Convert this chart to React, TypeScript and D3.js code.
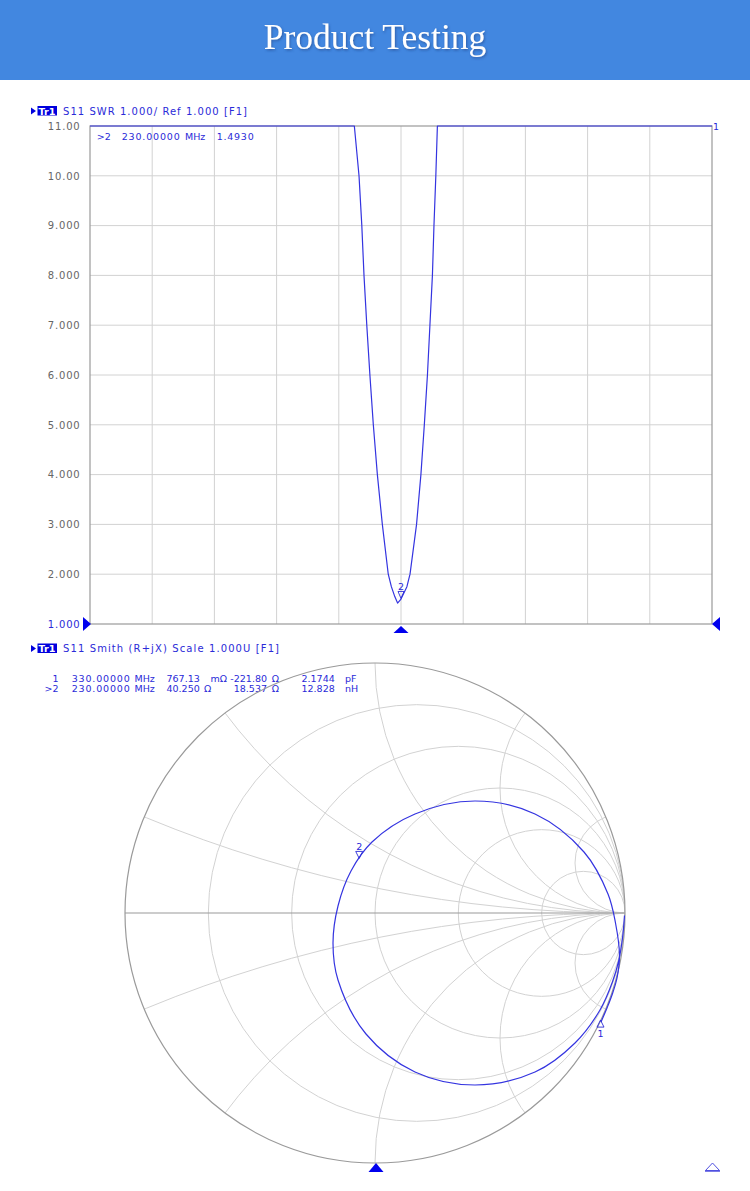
import React from "react";
import * as d3 from "d3";

// ---------- DATA ----------
const titleText = "Product Testing";
const swrHeader = "S11 SWR 1.000/ Ref 1.000 [F1]";
const smithHeader = "S11 Smith (R+jX) Scale 1.000U [F1]";

const yTickValues = [11, 10, 9, 8, 7, 6, 5, 4, 3, 2, 1];
const yTickLabels = ["11.00", "10.00", "9.000", "8.000", "7.000", "6.000", "5.000", "4.000", "3.000", "2.000", "1.000"];
const freqStart = 130; // MHz
const freqStop = 330; // MHz
const xDivisions = 10;

// SWR trace (frequency MHz, SWR); values above 11 are off-scale
const swrFreq = [130, 170, 200, 212, 214.6, 215.0, 216.5, 217.4, 218.1, 219.0, 220.0, 221.1, 222.4, 224.0, 225.9, 226.9, 228.0, 228.9, 230.0, 231.9, 232.9, 235.0, 236.4, 237.5, 238.5, 239.3, 240.1, 240.6, 241.2, 241.7, 242.0, 245, 260, 300, 330];
const swrValue = [60, 40, 20, 13, 11.2, 11, 10, 9, 8, 7, 6, 5, 4, 3, 2, 1.75, 1.55, 1.42, 1.5, 1.75, 2, 3, 4, 5, 6, 7, 8, 9, 10, 11, 11.4, 14, 30, 50, 70];

// marker readouts
const markerIds = ["1", "2"];
const markerActive = [false, true];
const markerFreq = [330, 230];
const markerFreqText = ["330.00000", "230.00000"];
const markerSwr = ["", "1.4930"];
const markerR = [0.76713, 40.25]; // ohm
const markerX = [-221.8, 18.537]; // ohm
const markerRText = ["767.13", "40.250"];
const markerRUnit = ["m\u03A9", "\u03A9"];
const markerXText = ["-221.80", "18.537"];
const markerLText = ["2.1744", "12.828"];
const markerLUnit = ["pF", "nH"];
const z0 = 50;

// Smith chart grid
const smithR = [0.2, 0.5, 1, 2, 5];
const smithX = [0.2, 0.5, 1, 2, 5, -0.2, -0.5, -1, -2, -5];

// Smith trace (reflection coefficient re, im), in sweep order
const gammaRe = [0.998, 0.99, 0.975, 0.95, 0.9, 0.8, 0.64, 0.4, 0.16, -0.036, -0.148, -0.168, -0.148, -0.096, -0.012, 0.16, 0.4, 0.64, 0.836, 0.932, 0.962, 0.978, 0.968, 0.948, 0.928, 0.904];
const gammaIm = [-0.01, -0.1, -0.19, -0.275, -0.388, -0.52, -0.636, -0.688, -0.636, -0.484, -0.268, -0.12, 0.028, 0.168, 0.284, 0.396, 0.448, 0.396, 0.244, 0.076, -0.04, -0.17, -0.26, -0.328, -0.38, -0.436];

// ---------- STYLE ----------
const FONT = "'DejaVu Sans', Verdana, sans-serif";
const BLUE = "#3434e0";
const TEXTBLUE = "#2a2ad8";
const GRID = "#d2d2d2";
const FRAME = "#9a9a9a";
const LABEL = "#666666";
const FS = 9.5;

const W = 750;
const H = 1191;

type TokProps = { x: number; y: number; w?: number; anchor?: string; children: React.ReactNode };
function Tok({ x, y, w, anchor, children }: TokProps) {
  const extra = w ? { textLength: w, lengthAdjust: "spacing" } : {};
  return (
    <text x={x} y={y} fontSize={FS} fontFamily={FONT} fill={TEXTBLUE} textAnchor={anchor || "start"} {...extra}>
      {children}
    </text>
  );
}

function TrHeader({ y, text, width }: { y: number; text: string; width: number }) {
  return (
    <g>
      <path d={`M31,${y - 7} L36,${y - 3.5} L31,${y} Z`} fill="#0000dd" />
      <rect x={37.5} y={y - 8.5} width={19.5} height={9.5} fill="#0000dd" />
      <text x={38.5} y={y} fontSize={9.5} fill="#ffffff" fontFamily={FONT} fontWeight="bold" textLength={17} lengthAdjust="spacingAndGlyphs">Tr1</text>
      <text x={63} y={y} fontSize={10} fill={TEXTBLUE} fontFamily={FONT} textLength={width} lengthAdjust="spacing">{text}</text>
    </g>
  );
}

function SwrChart() {
  const x = d3.scaleLinear().domain([freqStart, freqStop]).range([90, 712]);
  const y = d3.scaleLinear().domain([1, 11]).range([624, 126]);
  const xTicks = d3.range(xDivisions + 1).map((i) => freqStart + (i * (freqStop - freqStart)) / xDivisions);
  const line = d3
    .line<number>()
    .x((_, i) => x(swrFreq[i]))
    .y((_, i) => y(Math.min(11, swrValue[i])))
    .curve(d3.curveLinear);
  const m2 = 1;
  const m2x = x(markerFreq[m2]);
  const m2y = y(parseFloat(markerSwr[m2]));
  return (
    <g>
      <TrHeader y={114.5} text={swrHeader} width={184} />
      {/* grid */}
      {xTicks.slice(1, -1).map((f) => (
        <line key={"vx" + f} x1={x(f)} x2={x(f)} y1={126} y2={624} stroke={GRID} strokeWidth={1} />
      ))}
      {yTickValues.slice(1, -1).map((v) => (
        <line key={"hy" + v} x1={90} x2={712} y1={y(v)} y2={y(v)} stroke={GRID} strokeWidth={1} />
      ))}
      <rect x={90} y={126} width={622} height={498} fill="none" stroke={FRAME} strokeWidth={1.2} />
      {/* y labels */}
      {yTickValues.map((v, i) => (
        <text key={"yl" + v} x={80.5} y={y(v) + 3.8} textAnchor="end" fontSize={10} letterSpacing={0.8} fontFamily={FONT} fill={v === 1 ? TEXTBLUE : LABEL}>
          {yTickLabels[i]}
        </text>
      ))}
      {/* marker readout */}
      <Tok x={96.7} y={140}>{">" + markerIds[m2]}</Tok>
      <Tok x={121.7} y={140} w={58}>{markerFreqText[m2]}</Tok>
      <Tok x={185} y={140}>MHz</Tok>
      <Tok x={216.7} y={140} w={37}>{markerSwr[m2]}</Tok>
      {/* trace */}
      <path d={line(swrValue) || ""} fill="none" stroke={BLUE} strokeWidth={1.2} strokeLinejoin="round" />
      {/* marker 2 */}
      <path d={`M${m2x},${m2y - 1} L${m2x - 3},${m2y - 8} L${m2x + 3},${m2y - 8} Z`} fill="none" stroke={TEXTBLUE} strokeWidth={0.9} />
      <text x={m2x} y={m2y - 9.5} textAnchor="middle" fontSize={9.5} fontFamily={FONT} fill={TEXTBLUE}>{markerIds[m2]}</text>
      {/* marker 1 off-scale at stop */}
      <text x={713} y={130} fontSize={9.5} fontFamily={FONT} fill={TEXTBLUE}>{markerIds[0]}</text>
      {/* stimulus / reference triangles */}
      <path d={`M83,617 L91,624 L83,631 Z`} fill="#0000ee" />
      <path d={`M720,617 L712,624 L720,631 Z`} fill="#0000ee" />
      <path d={`M${x(markerFreq[m2])},626 L${x(markerFreq[m2]) + 7.5},633 L${x(markerFreq[m2]) - 7.5},633 Z`} fill="#0000ee" />
    </g>
  );
}

function gammaOf(r: number, xx: number): [number, number] {
  const zr = r / z0;
  const zi = xx / z0;
  const nr = zr - 1;
  const dr = zr + 1;
  const den = dr * dr + zi * zi;
  return [(nr * dr + zi * zi) / den, (zi * dr - nr * zi) / den];
}

function SmithChart() {
  const cx = 375;
  const cy = 913;
  const R = 250;
  const gx = d3.scaleLinear().domain([-1, 1]).range([cx - R, cx + R]);
  const gy = d3.scaleLinear().domain([-1, 1]).range([cy + R, cy - R]);
  const k = R;
  const trace = d3
    .line<number>()
    .x((_, i) => gx(gammaRe[i]))
    .y((_, i) => gy(gammaIm[i]))
    .curve(d3.curveCatmullRom.alpha(0.5));
  const m = markerIds.map((_, i) => gammaOf(markerR[i], markerX[i]));
  const rUnitX = [210.5, 204];
  return (
    <g>
      <TrHeader y={652} text={smithHeader} width={216} />
      {/* readout lines */}
      {markerIds.map((id, i) => {
        const by = 681.5 + i * 10.6;
        const idText = (markerActive[i] ? ">" : "") + id;
        return (
          <g key={"ro" + id}>
            <Tok x={58.5} y={by} anchor="end">{idText}</Tok>
            <Tok x={71.7} y={by} w={58}>{markerFreqText[i]}</Tok>
            <Tok x={134.5} y={by}>MHz</Tok>
            <Tok x={166.5} y={by}>{markerRText[i]}</Tok>
            <Tok x={rUnitX[i]} y={by}>{markerRUnit[i]}</Tok>
            <Tok x={267} y={by} anchor="end">{markerXText[i]}</Tok>
            <Tok x={271.7} y={by}>{"\u03A9"}</Tok>
            <Tok x={301.5} y={by}>{markerLText[i]}</Tok>
            <Tok x={345} y={by}>{markerLUnit[i]}</Tok>
          </g>
        );
      })}
      <defs>
        <clipPath id="unitClip">
          <circle cx={cx} cy={cy} r={R} />
        </clipPath>
      </defs>
      <g clipPath="url(#unitClip)">
        {smithR.map((r) => (
          <circle key={"r" + r} cx={gx(r / (1 + r))} cy={cy} r={k / (1 + r)} fill="none" stroke={GRID} strokeWidth={1} />
        ))}
        {smithX.map((xv) => (
          <circle key={"x" + xv} cx={gx(1)} cy={gy(1 / xv)} r={k / Math.abs(xv)} fill="none" stroke={GRID} strokeWidth={1} />
        ))}
      </g>
      <circle cx={cx} cy={cy} r={R} fill="none" stroke={FRAME} strokeWidth={1.2} />
      <line x1={cx - R} x2={cx + R} y1={cy} y2={cy} stroke={FRAME} strokeWidth={1.2} />
      {/* trace */}
      <path d={trace(gammaRe) || ""} fill="none" stroke={BLUE} strokeWidth={1.2} />
      {/* markers */}
      {m.map((g, i) => {
        const px = gx(g[0]);
        const py = gy(g[1]);
        if (markerActive[i]) {
          return (
            <g key={"mk" + i}>
              <path d={`M${px},${py} L${px - 3.5},${py - 7} L${px + 3.5},${py - 7} Z`} fill="none" stroke={TEXTBLUE} strokeWidth={0.9} />
              <text x={px} y={py - 8.5} textAnchor="middle" fontSize={9.5} fontFamily={FONT} fill={TEXTBLUE}>{markerIds[i]}</text>
            </g>
          );
        }
        return (
          <g key={"mk" + i}>
            <path d={`M${px},${py} L${px - 3.5},${py + 7} L${px + 3.5},${py + 7} Z`} fill="none" stroke={TEXTBLUE} strokeWidth={0.9} />
            <text x={px} y={py + 17} textAnchor="middle" fontSize={9.5} fontFamily={FONT} fill={TEXTBLUE}>{markerIds[i]}</text>
          </g>
        );
      })}
      {/* bottom triangles */}
      <path d={`M${cx + 1},${cy + R} L${cx + 8.5},${cy + R + 9} L${cx - 6.5},${cy + R + 9} Z`} fill="#0000ee" />
      <path d={`M712.5,1163 L719.5,1170.5 L705.5,1170.5 Z`} fill="none" stroke="#5050e0" strokeWidth={1} />
      <line x1={705} x2={720} y1={1171} y2={1171} stroke="#5050e0" strokeWidth={1.5} />
    </g>
  );
}

export default function App() {
  return (
    <svg
      width={W}
      height={H}
      viewBox={`0 0 ${W} ${H}`}
      style={{ position: "absolute", left: 0, top: 0, display: "block", background: "#ffffff" }}
    >
      <defs>
        <filter id="tshadow" x="-10%" y="-30%" width="120%" height="160%">
          <feDropShadow dx={1} dy={1.5} stdDeviation={1.2} floodColor="#1a3f80" floodOpacity={0.55} />
        </filter>
      </defs>
      <rect x={0} y={0} width={W} height={H} fill="#ffffff" />
      <rect x={0} y={0} width={W} height={80} fill="#4287e0" />
      <text x={375} y={48.5} textAnchor="middle" fontFamily="'Liberation Serif', 'Times New Roman', serif" fontSize={35.5} fill="#ffffff" filter="url(#tshadow)">
        {titleText}
      </text>
      <SwrChart />
      <SmithChart />
    </svg>
  );
}
